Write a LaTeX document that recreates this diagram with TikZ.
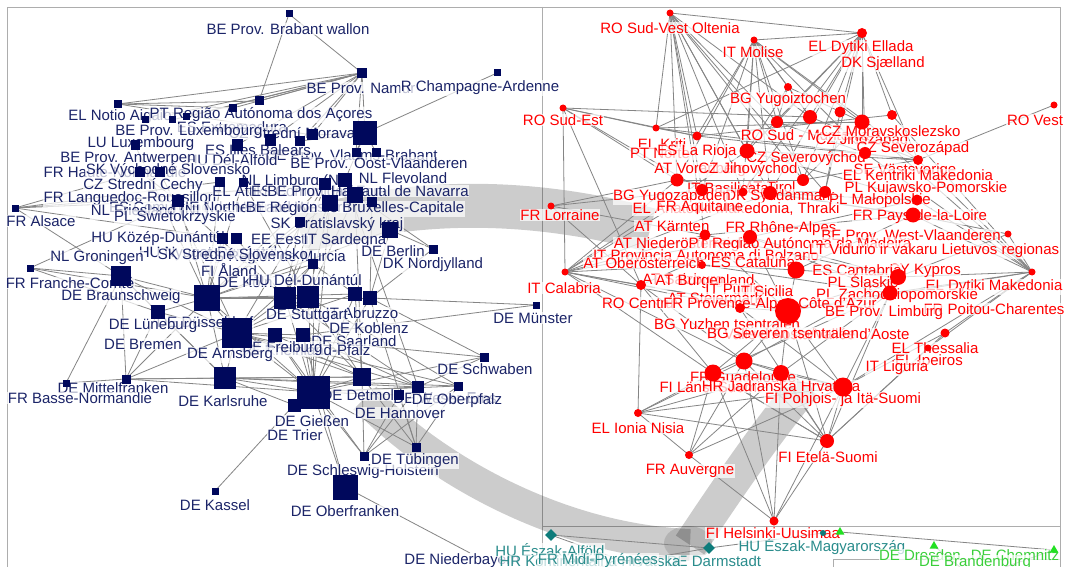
\documentclass[tikz,border=0pt]{standalone}
\usepackage{fontspec}
\setmainfont{Liberation Sans}
\usetikzlibrary{shapes.geometric}
\definecolor{navynode}{HTML}{00085C}
\definecolor{navytext}{HTML}{1B2468}
\definecolor{rednode}{HTML}{FF0000}
\definecolor{tealnode}{HTML}{0E7C7B}
\definecolor{tealtext}{HTML}{2A8C8C}
\definecolor{greennode}{HTML}{22E022}
\definecolor{greentext}{HTML}{3ACF3A}
\definecolor{edgegray}{HTML}{858585}
\definecolor{framegray}{HTML}{ADADAD}
\newcommand\labfont{\fontsize{15}{15}\selectfont}
\tikzset{
  edge/.style={draw=edgegray, line width=0.8pt},
  frameline/.style={draw=framegray, line width=0.9pt},
  band/.style={draw=black, draw opacity=0.2},
  sq/.style={rectangle, fill=navynode, inner sep=0pt, minimum size=#1},
  rc/.style={circle, fill=rednode, inner sep=0pt, minimum size=#1},
  lab/.style={fill=white, fill opacity=0.72, text opacity=1, inner sep=0.6pt, font=\labfont},
  ln/.style={lab, text=navytext},
  lr/.style={lab, text=rednode},
  lt/.style={lab, text=tealtext},
  lg/.style={lab, text=greentext},
}
\begin{document}
\begin{tikzpicture}[x=1pt,y=-1pt]
\useasboundingbox (0,0) rectangle (1065,567);
\fill[white] (0,0) rectangle (1065,567);
% group frames
\draw[frameline] (7,567) -- (7,7) -- (1060,7) -- (1060,567);
\draw[frameline] (542,7) -- (542,567);
\draw[frameline] (542,526) -- (1060,526);
\draw[frameline] (833,567) -- (833,559) -- (1060,559);
% group bands
\draw[band, line width=44pt] (300,232) .. controls (400,200) and (520,195) .. (650,230);
\draw[band, line width=32pt] (365,398) .. controls (435,470) and (560,540) .. (690,545);
\draw[band, line width=34pt] (690,545) .. controls (720,500) and (760,440) .. (805,385);
\fill[black, fill opacity=0.12] (688,543) ellipse (24pt and 17pt);
% coordinates: left group
\foreach \n/\x/\y/\s in {l1/289/14/7, l2/362/73/10, l3/497/73/7, l4/118/104/8, l5/233/108/8, l6/259/101/9, l7/145/120/7, l8/172/120/7, l9/186/117/7, l10/365/133/24, l11/312/135/11, l12/356/152/9, l13/376/152/9, l14/135/145/9, l15/237/145/11, l16/270/140/11, l17/300/141/10, l18/140/172/10, l19/160/172/10, l20/325/184/12, l21/345/180/14, l22/220/182/10, l23/243/182/9, l24/178/201/12, l25/15/208/7, l26/330/203/16, l27/355/195/16, l28/372/202/10, l29/300/222/10, l30/390/230/16, l31/222/238/11, l31b/236/238/11, l32/433/249/9, l33/313/264/10, l34/30/268/7, l35/121/276/20, l36/207/298/26, l37/158/312/14, l38/285/298/22, l39/308/297/22, l40/355/294/14, l41/370/298/14, l42/237/333/30, l43/275/335/14, l44/303/335/14, l45/484/357/9, l46/536/305/7, l47/225/378/22, l48/66/383/7, l49/126/379/9, l50/313/392/33, l51/294/405/13, l52/362/377/18, l53/418/387/12, l54/399/395/10, l55/458/386/9, l56/416/447/9, l57/364/456/9, l58/345/487/25, l59/215/491/7}
  \coordinate (\n) at (\x,\y);
\coordinate (ldn) at (470,553);
% coordinates: right group
\foreach \n/\x/\y/\s in {r1/670/13/7, r2/754/40/7, r3/862/33/10, r4/788/87/8, r5/563/108/7, r6/1054/105/7, r7/656/128/7, r8/697/136/9, r9/777/122/12, r10/810/117/14, r11/840/112/11, r12/862/122/15, r13/892/115/10, r14/747/151/15, r15/865/153/12, r16/918/160/10, r17/677/180/13, r18/702/190/12, r19/743/192/9, r20/770/193/14, r21/803/180/12, r22/825/192/12, r23/917/200/11, r24/913/215/15, r25/705/235/11, r26/750/237/14, r27/702/265/8, r28/1008/234/7, r29/565/272/7, r30/1032/272/7, r31/641/285/10, r32/796/270/17, r33/898/277/16, r34/890/293/15, r35/740/308/10, r36/788/311/26, r37/945/333/9, r38/928/348/7, r39/713/373/17, r40/744/361/17, r41/781/373/16, r42/843/387/19, r43/638/413/8, r44/689/455/8, r45/827/441/14, r46/774/521/9, r47/551/206/7}
  \coordinate (\n) at (\x,\y);
% coordinates: bottom groups
\coordinate (t1) at (551,535); \coordinate (t2) at (709,548); \coordinate (t3) at (823,533);
\coordinate (tA) at (640,567); \coordinate (tB) at (600,567);
\coordinate (g1) at (840,532); \coordinate (g2) at (934,546); \coordinate (g3) at (1054,550);
\coordinate (gA) at (960,567); \coordinate (gB) at (1005,567);
% edges left
\foreach \a/\b in {l1/l2, l1/l6, l2/l4, l2/l5, l2/l6, l2/l7, l2/l8, l2/l9, l2/l11, l2/l10, l2/l15, l2/l16, l2/l17, l2/l12, l4/l5, l4/l6, l4/l11, l3/l10, l25/l18, l25/l24, l25/l22, l25/l31, l25/l35, l25/l20, l34/l35, l34/l36, l34/l24, l34/l37, l35/l48, l35/l36, l35/l42, l36/l38, l36/l42, l36/l47, l36/l49, l36/l30, l36/l26, l36/l20, l36/l50, l36/l40, l42/l47, l42/l50, l42/l52, l42/l53, l42/l49, l42/l55, l42/l45, l42/l40, l49/l47, l49/l50, l49/l48, l47/l50, l47/l52, l47/l51, l50/l52, l50/l53, l50/l54, l50/l55, l50/l56, l50/l57, l50/l58, l52/l56, l52/l57, l53/l56, l54/l56, l55/l56, l53/l57, l55/l57, l54/l57, l59/l51, l58/ldn, l46/l41, l46/l44, l45/l41, l45/l50, l45/l53, l44/l53, l43/l52, l39/l52, l38/l50, l40/l52, l32/l30, l32/l27, l32/l41, l33/l36, l33/l38, l33/l40, l33/l50, l37/l36, l37/l42, l37/l49, l37/l35, l20/l26, l21/l27, l26/l38, l27/l39, l29/l38, l31/l36, l24/l36, l22/l36, l18/l24, l10/l11, l10/l12, l10/l13, l10/l17, l10/l21, l14/l36, l19/l42, l23/l39, l28/l41, l30/l41, l26/l50, l27/l52, l21/l53, l20/l42, l38/l53, l39/l55, l41/l56, l43/l57, l44/l58, l36/l39, l36/l41, l42/l38, l42/l39, l42/l44, l47/l53, l47/l55, l49/l52, l38/l52, l39/l50, l40/l50, l41/l50, l43/l50, l44/l50, l35/l47, l35/l49, l37/l47, l24/l38, l20/l38, l26/l39, l29/l36, l33/l42, l31b/l38, l23/l36}
  \draw[edge] (\a) -- (\b);
% edges right
\foreach \a/\b in {r1/r3, r1/r7, r1/r8, r1/r14, r1/r9, r1/r17, r1/r18, r1/r19, r1/r20, r1/r10, r1/r25, r2/r3, r2/r8, r2/r9, r2/r10, r2/r14, r2/r12, r2/r15, r2/r19, r2/r20, r2/r21, r2/r16, r2/r4, r3/r9, r3/r10, r3/r11, r3/r12, r3/r13, r3/r15, r3/r16, r3/r21, r3/r22, r3/r7, r4/r9, r4/r10, r4/r14, r4/r12, r5/r7, r5/r8, r5/r10, r5/r29, r5/r17, r5/r18, r5/r31, r6/r16, r7/r8, r7/r12, r8/r13, r9/r12, r14/r16, r17/r21, r18/r22, r19/r23, r20/r24, r29/r17, r29/r18, r29/r25, r29/r26, r29/r27, r29/r31, r29/r35, r29/r36, r29/r39, r29/r40, r29/r14, r29/r20, r30/r16, r30/r23, r30/r24, r30/r28, r30/r33, r30/r34, r30/r37, r30/r38, r30/r42, r30/r15, r30/r12, r30/r36, r30/r13, r28/r24, r28/r33, r36/r39, r36/r40, r36/r41, r36/r42, r36/r32, r36/r33, r36/r34, r36/r26, r36/r25, r39/r42, r40/r42, r41/r42, r39/r41, r43/r39, r43/r40, r43/r41, r43/r45, r43/r44, r31/r43, r44/r39, r44/r41, r44/r46, r45/r39, r45/r40, r45/r41, r45/r42, r45/r36, r45/r37, r45/r38, r45/r34, r46/r45, r46/r40, r46/r42, r32/r33, r26/r34, r25/r33, r27/r32, r35/r36, r35/r42, r47/r17, r47/r25, r47/r31, r47/r18, r7/r16, r8/r16, r14/r23, r17/r24, r18/r23, r20/r22, r21/r16, r9/r15, r10/r16, r11/r22, r12/r21, r1/r21, r1/r22, r2/r17, r2/r18, r3/r14, r3/r19, r3/r20, r39/r45, r40/r41, r43/r42, r44/r40, r44/r42, r46/r39, r46/r41, r45/r35, r42/r33, r42/r37, r41/r34, r39/r34, r40/r33, r25/r24, r26/r23, r27/r34, r31/r36, r31/r39, r31/r40, r31/r26, r32/r24, r26/r33}
  \draw[edge] (\a) -- (\b);
% edges bottom
\foreach \a/\b in {t1/t2, t1/tA, t2/tB, t2/t3, g1/g3, g2/gA, g3/gB}
  \draw[edge] (\a) -- (\b);
% labels left (navy)
\node[ln] (a1) at (288,29) {BE Prov. Brabant wallon};
\node[ln] (a2) at (361,88) {BE Prov. Namur};
\node[ln] (a3) at (480,88) {R Champagne-Ardenne};
\node[ln] (a4) at (120,117) {EL Notio Aigaio};
\node[ln] (a5) at (261,115) {PT Região Autónoma dos Açores};
\node[ln] (a6) at (232,127) {ES Extremadura};
\node[ln] (a7) at (292,133) {CZ Strední Morava};
\node[ln] (a8) at (189,132) {BE Prov. Luxembourg};
\node[ln] (a9) at (352,155) {BE Prov. Vlaams-Brabant};
\node[ln] (a10) at (141,144) {LU Luxembourg};
\node[ln] (a11) at (258,150) {ES Illes Balears};
\node[ln] (a12) at (232,160) {HU Dél-Alföld};
\node[ln] (a13) at (128,159) {BE Prov. Antwerpen};
\node[ln] (a14) at (379,163) {BE Prov. Oost-Vlaanderen};
\node[ln] (a15) at (115,172) {FR Haute-Normandie};
\node[ln] (a16) at (168,171) {SK Východné Slovensko};
\node[ln] (a17) at (403,178) {NL Flevoland};
\node[ln] (a18) at (297,182) {NL Limburg (NL)};
\node[ln] (a19) at (143,186) {CZ Strední Cechy};
\node[ln] (a20) at (130,199) {FR Languedoc-Roussillon};
\node[ln] (a21) at (240,191) {EL Attiki};
\node[ln] (a22) at (360,191) {ES Comunidad Foral de Navarra};
\node[ln] (a23) at (325,191) {BE Prov. Hainaut};
\node[ln] (a24) at (195,207) {ES Comunidad de Madrid};
\node[ln] (a25) at (268,207) {IE Northern and Western};
\node[ln] (a26) at (355,209) {BE Région de Bruxelles-Capitale};
\node[ln] (a27) at (150,212) {NL Friesland (NL)};
\node[ln] (a28) at (175,218) {PL Swietokrzyskie};
\node[ln] (a29) at (41,221) {FR Alsace};
\node[ln] (a30) at (337,225) {SK Bratislavský kraj};
\node[ln] (a31) at (158,239) {HU Közép-Dunántúl};
\node[ln] (a32) at (280,239) {EE Eesti};
\node[ln] (a33) at (345,241) {IT Sardegna};
\node[ln] (a34) at (393,251) {DE Berlin};
\node[ln] (a35) at (208,254) {HU Nyugat-Dunántúl};
\node[ln] (a36) at (275,258) {ES Región de Murcia};
\node[ln] (a37) at (233,254) {SK Stredné Slovensko};
\node[ln] (a38) at (97,258) {NL Groningen};
\node[ln] (a39) at (433,265) {DK Nordjylland};
\node[ln] (a40) at (229,270) {FI Åland};
\node[ln] (a41) at (245,282) {DE Köln};
\node[ln] (a42) at (305,280) {HU Dél-Dunántúl};
\node[ln] (a43) at (70,283) {FR Franche-Comté};
\node[ln] (a44) at (121,297) {DE Braunschweig};
\node[ln] (a45) at (362,313) {IT Abruzzo};
\node[ln] (a46) at (307,316) {DE Stuttgart};
\node[ln] (a47) at (205,322) {DE Düsseldorf};
\node[ln] (a48) at (153,326) {DE Lüneburg};
\node[ln] (a49) at (369,328) {DE Koblenz};
\node[ln] (a50) at (354,341) {DE Saarland};
\node[ln] (a51) at (305,350) {DE Rheinland-Pfalz};
\node[ln] (a52) at (282,349) {DE Freiburg};
\node[ln] (a53) at (143,344) {DE Bremen};
\node[ln] (a54) at (230,355) {DE Arnsberg};
\node[ln] (a55) at (485,369) {DE Schwaben};
\node[ln] (a56) at (533,318) {DE Münster};
\node[ln] (a57) at (113,388) {DE Mittelfranken};
\node[ln] (a58) at (80,398) {FR Basse-Normandie};
\node[ln] (a59) at (223,401) {DE Karlsruhe};
\node[ln] (a60) at (362,395) {DE Detmold};
\node[ln] (a61) at (445,398) {DE Weser-Ems};
\node[ln] (a62) at (457,401) {DE Oberpfalz};
\node[ln] (a63) at (400,413) {DE Hannover};
\node[ln] (a64) at (312,421) {DE Gießen};
\node[ln] (a65) at (295,435) {DE Trier};
\node[ln] (a66) at (363,472) {DE Schleswig-Holstein};
\node[ln] (a67) at (415,461) {DE Tübingen};
\node[ln] (a68) at (215,505) {DE Kassel};
\node[ln] (a69) at (345,511) {DE Oberfranken};
\node[ln] (a70) at (462,561) {DE Niederbayern};
% labels bottom
\node[lt] (b1) at (550,550) {HU Észak-Alföld};
\node[lt] (b2) at (714,561) {DE Darmstadt};
\node[lt] (b3) at (590,561) {HR Kontinentalna Hrvatska};
\node[lt] (b4) at (598,561) {FR Midi-Pyrénées};
\node[lt] (b5) at (822,547) {HU Észak-Magyarország};
\node[lg] (c1) at (920,555) {DE Dresden};
\node[lg] (c2) at (1015,555) {DE Chemnitz};
\node[lg] (c3) at (975,563) {DE Brandenburg};
% labels right (red)
\node[lr] (d1) at (670,28) {RO Sud-Vest Oltenia};
\node[lr] (d2) at (753,52) {IT Molise};
\node[lr] (d3) at (861,48) {EL Dytiki Ellada};
\node[lr] (d4) at (883,64) {DK Sjælland};
\node[lr] (d5) at (788,100) {BG Yugoiztochen};
\node[lr] (d6) at (563,120) {RO Sud-Est};
\node[lr] (d7) at (1035,120) {RO Vest};
\node[lr] (d8) at (662,144) {EL Kriti};
\node[lr] (d9) at (805,135) {RO Sud - Muntenia};
\node[lr] (d10) at (862,141) {CZ Jihozápad};
\node[lr] (d11) at (891,131) {CZ Moravskoslezsko};
\node[lr] (d12) at (660,153) {PT Norte};
\node[lr] (d13) at (697,152) {ES La Rioja};
\node[lr] (d14) at (913,149) {CZ Severozápad};
\node[lr] (d15) at (806,159) {CZ Severovýchod};
\node[lr] (d16) at (700,170) {AT Vorarlberg};
\node[lr] (d17) at (905,171) {SE Västsverige};
\node[lr] (d18) at (748,170) {CZ Jihovýchod};
\node[lr] (d19) at (918,175) {EL Kentriki Makedonia};
\node[lr] (d20) at (770,187) {AT Tirol};
\node[lr] (d21) at (728,188) {IT Basilicata};
\node[lr] (d22) at (926,189) {PL Kujawsko-Pomorskie};
\node[lr] (d23) at (780,197) {DK Syddanmark};
\node[lr] (d24) at (672,197) {BG Yugozapaden};
\node[lr] (d25) at (880,201) {PL Małopolskie};
\node[lr] (d26) at (736,209) {EL Anatoliki Makedonia, Thraki};
\node[lr] (d27) at (700,208) {FR Aquitaine};
\node[lr] (d28) at (560,215) {FR Lorraine};
\node[lr] (d29) at (920,217) {FR Pays-de-la-Loire};
\node[lr] (d30) at (672,226) {AT Kärnten};
\node[lr] (d31) at (781,229) {FR Rhône-Alpes};
\node[lr] (d32) at (911,235) {BE Prov. West-Vlaanderen};
\node[lr] (d33) at (680,243) {AT Niederösterreich};
\node[lr] (d34) at (800,245) {PT Região Autónoma da Madeira};
\node[lr] (d35) at (706,255) {IT Provincia Autonoma di Bolzano};
\node[lr] (d36) at (934,251) {LT Vidurio ir vakaru Lietuvos regionas};
\node[lr] (d37) at (644,263) {AT Oberösterreich};
\node[lr] (d38) at (753,262) {ES Cataluña};
\node[lr] (d39) at (925,271) {CY Kypros};
\node[lr] (d40) at (857,270) {ES Cantabria};
\node[lr] (d41) at (564,288) {IT Calabria};
\node[lr] (d42) at (683,281) {AT Salzburg};
\node[lr] (d43) at (705,282) {AT Burgenland};
\node[lr] (d44) at (735,291) {IT Puglia};
\node[lr] (d45) at (765,291) {IT Sicilia};
\node[lr] (d46) at (863,282) {PL Śląskie};
\node[lr] (d47) at (994,287) {EL Dytiki Makedonia};
\node[lr] (d48) at (897,296) {PL Zachodniopomorskie};
\node[lr] (d49) at (715,298) {AT Steiermark};
\node[lr] (d50) at (638,303) {RO Centru};
\node[lr] (d51) at (770,305) {FR Provence-Alpes-Côte d'Azur};
\node[lr] (d52) at (994,309) {FR Poitou-Charentes};
\node[lr] (d53) at (884,313) {BE Prov. Limburg};
\node[lr] (d54) at (727,324) {BG Yuzhen tsentralen};
\node[lr] (d55) at (808,334) {IT Valle d'Aosta/Vallée d'Aoste};
\node[lr] (d56) at (783,333) {BG Severen tsentralen};
\node[lr] (d57) at (935,348) {EL Thessalia};
\node[lr] (d58) at (929,362) {EL Ipeiros};
\node[lr] (d59) at (897,368) {IT Liguria};
\node[lr] (d60) at (743,379) {FR Guadeloupe};
\node[lr] (d61) at (710,387) {FI Länsi-Suomi};
\node[lr] (d62) at (781,386) {HR Jadranska Hrvatska};
\node[lr] (d63) at (843,400) {FI Pohjois- ja Itä-Suomi};
\node[lr] (d64) at (638,428) {EL Ionia Nisia};
\node[lr] (d65) at (828,457) {FI Etelä-Suomi};
\node[lr] (d66) at (690,471) {FR Auvergne};
\node[lr] (d67) at (773,533) {FI Helsinki-Uusimaa};
% vertices
\foreach \n/\x/\y/\s in {l1/289/14/7, l2/362/73/10, l3/497/73/7, l4/118/104/8, l5/233/108/8, l6/259/101/9, l7/145/120/7, l8/172/120/7, l9/186/117/7, l10/365/133/24, l11/312/135/11, l12/356/152/9, l13/376/152/9, l14/135/145/9, l15/237/145/11, l16/270/140/11, l17/300/141/10, l18/140/172/10, l19/160/172/10, l20/325/184/12, l21/345/180/14, l22/220/182/10, l23/243/182/9, l24/178/201/12, l25/15/208/7, l26/330/203/16, l27/355/195/16, l28/372/202/10, l29/300/222/10, l30/390/230/16, l31/222/238/11, l31b/236/238/11, l32/433/249/9, l33/313/264/10, l34/30/268/7, l35/121/276/20, l36/207/298/26, l37/158/312/14, l38/285/298/22, l39/308/297/22, l40/355/294/14, l41/370/298/14, l42/237/333/30, l43/275/335/14, l44/303/335/14, l45/484/357/9, l46/536/305/7, l47/225/378/22, l48/66/383/7, l49/126/379/9, l50/313/392/33, l51/294/405/13, l52/362/377/18, l53/418/387/12, l54/399/395/10, l55/458/386/9, l56/416/447/9, l57/364/456/9, l58/345/487/25, l59/215/491/7}
  \node[sq=\s pt] (v\n) at (\n) {};
\foreach \n/\x/\y/\s in {r1/670/13/7, r2/754/40/7, r3/862/33/10, r4/788/87/8, r5/563/108/7, r6/1054/105/7, r7/656/128/7, r8/697/136/9, r9/777/122/12, r10/810/117/14, r11/840/112/11, r12/862/122/15, r13/892/115/10, r14/747/151/15, r15/865/153/12, r16/918/160/10, r17/677/180/13, r18/702/190/12, r19/743/192/9, r20/770/193/14, r21/803/180/12, r22/825/192/12, r23/917/200/11, r24/913/215/15, r25/705/235/11, r26/750/237/14, r27/702/265/8, r28/1008/234/7, r29/565/272/7, r30/1032/272/7, r31/641/285/10, r32/796/270/17, r33/898/277/16, r34/890/293/15, r35/740/308/10, r36/788/311/26, r37/945/333/9, r38/928/348/7, r39/713/373/17, r40/744/361/17, r41/781/373/16, r42/843/387/19, r43/638/413/8, r44/689/455/8, r45/827/441/14, r46/774/521/9, r47/551/206/7}
  \node[rc=\s pt] (v\n) at (\n) {};
\node[diamond, fill=tealnode, inner sep=0pt, minimum size=12pt] (vt1) at (t1) {};
\node[diamond, fill=tealnode, inner sep=0pt, minimum size=12pt] (vt2) at (t2) {};
\node[circle, fill=tealnode, inner sep=0pt, minimum size=6pt] (vt3) at (t3) {};
\node[regular polygon, regular polygon sides=3, fill=greennode, inner sep=0pt, minimum size=10pt] (vg1) at (g1) {};
\node[regular polygon, regular polygon sides=3, fill=greennode, inner sep=0pt, minimum size=10pt] (vg2) at (g2) {};
\node[regular polygon, regular polygon sides=3, fill=greennode, inner sep=0pt, minimum size=10pt] (vg3) at (g3) {};
\end{tikzpicture}
\end{document}
